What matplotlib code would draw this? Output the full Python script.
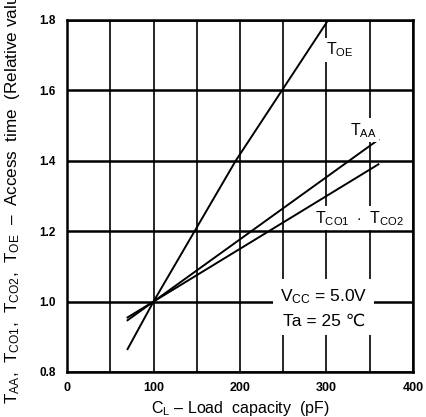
"""Access time vs load capacity (relative value)."""

import matplotlib
matplotlib.use("Agg")
import matplotlib.pyplot as plt
import numpy as np

# data
toe_x = [70, 100, 195, 302]
toe_y = [0.865, 1.0, 1.4, 1.8]
taa_x = [70, 100, 360]
taa_y = [0.947, 1.0, 1.46]
tco_x = [70, 100, 360]
tco_y = [0.955, 1.0, 1.39]

x_ticks = [0, 100, 200, 300, 400]
y_ticks = [0.8, 1.0, 1.2, 1.4, 1.6, 1.8]

plt.rcParams["font.family"] = ["Liberation Sans", "DejaVu Sans"]
plt.rcParams["mathtext.fontset"] = "custom"
plt.rcParams["mathtext.rm"] = "Liberation Sans"

fig = plt.figure(figsize=(4.27, 4.17), dpi=100)
ax = fig.add_axes([67 / 427, 1 - 372 / 417, 346 / 427, 352 / 417])

ax.set_xlim(0, 400)
ax.set_ylim(0.8, 1.8)
ax.set_xticks(np.arange(0, 401, 50))
ax.set_yticks(y_ticks)
ax.xaxis.grid(True, color="black", linewidth=1.2)
ax.yaxis.grid(True, color="black", linewidth=1.8)
ax.set_xticklabels([str(v) if v in x_ticks else "" for v in np.arange(0, 401, 50)],
                   fontsize=9, fontweight="bold")
ax.set_yticklabels([f"{v:.1f}" for v in y_ticks], fontsize=8.5, fontweight="bold")
ax.tick_params(length=0)
ax.tick_params(axis="x", pad=7)
ax.tick_params(axis="y", pad=8)
for s in ax.spines.values():
    s.set_linewidth(1.8)

kw = dict(color="black", linewidth=1.4, zorder=3)
ax.plot(toe_x, toe_y, **kw)
ax.plot(taa_x, taa_y, **kw)
ax.plot(tco_x, tco_y, **kw)

box = dict(facecolor="white", edgecolor="none", pad=2)
ax.text(300, 1.715, r"$\mathrm{T_{OE}}$", fontsize=11.5, va="center", ha="left",
        bbox=box, zorder=4)
ax.text(327, 1.487, r"$\mathrm{T_{AA}}$", fontsize=11.5, va="center", ha="left",
        bbox=box, zorder=4)
ax.text(287, 1.237, r"$\mathrm{T_{CO1}\ \cdot\ T_{CO2}}$", fontsize=11.5, va="center",
        ha="left", bbox=box, zorder=4)
ax.text(297, 0.982, "$\\mathrm{V_{CC}}$ = 5.0V\nTa = 25 \u2103", fontsize=12.5,
        va="center", ha="center", linespacing=1.6,
        bbox=dict(facecolor="white", edgecolor="none", pad=5), zorder=4)

fig.text(240 / 427, 1 - 408 / 417, "$\\mathrm{C_L}$ \u2013 Load  capacity  (pF)",
         fontsize=11.5, ha="center", va="center")
# the reference label runs off the top edge; keep it that way
fig.text(13 / 427, 1 - 404 / 417,
         "$\\mathrm{T_{AA}}$,  $\\mathrm{T_{CO1}}$,  $\\mathrm{T_{CO2}}$,  $\\mathrm{T_{OE}}$"
         "  \u2013  Access  time  (Relative value)",
         fontsize=12.3, rotation=90, ha="center", va="bottom")

fig.savefig("out.png", dpi=100)
